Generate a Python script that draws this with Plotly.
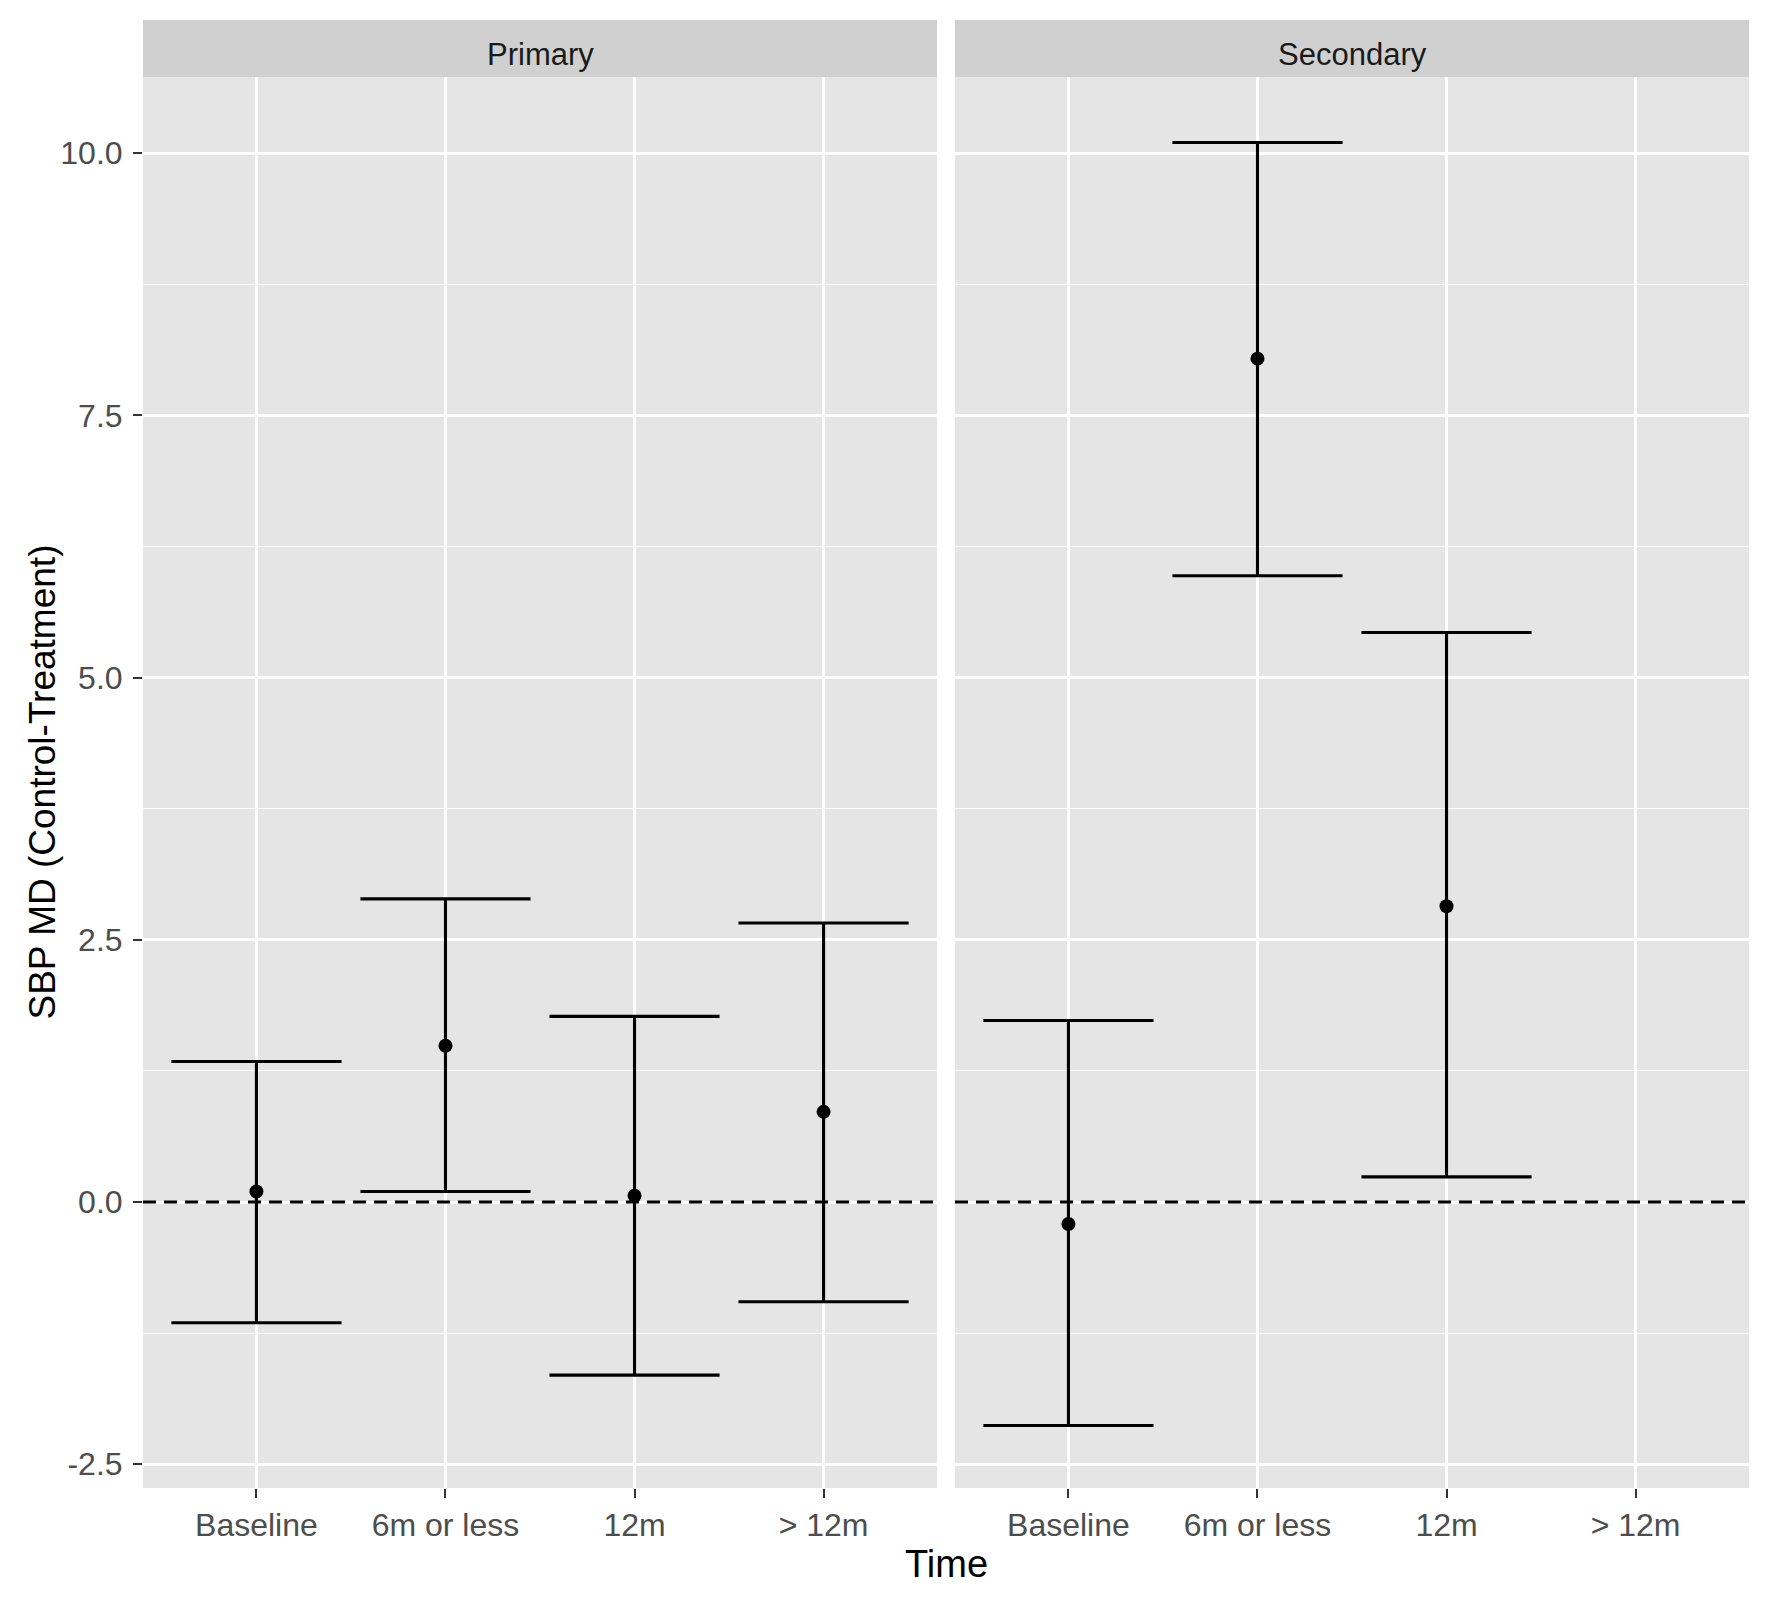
import plotly.graph_objects as go

# ---------------- data ----------------
categories = ["Baseline", "6m or less", "12m", "> 12m"]

primary_time = ["Baseline", "6m or less", "12m", "> 12m"]
primary_mean = [0.10, 1.49, 0.06, 0.86]
primary_lower = [-1.15, 0.10, -1.65, -0.95]
primary_upper = [1.34, 2.89, 1.77, 2.66]

secondary_time = ["Baseline", "6m or less", "12m"]
secondary_mean = [-0.21, 8.04, 2.82]
secondary_lower = [-2.13, 5.97, 0.24]
secondary_upper = [1.73, 10.10, 5.43]

panel_names = ["Primary", "Secondary"]
y_tickvals = [-2.5, 0.0, 2.5, 5.0, 7.5, 10.0]
y_ticktext = ["-2.5", "0.0", "2.5", "5.0", "7.5", "10.0"]
y_minorvals = [-1.25, 1.25, 3.75, 6.25, 8.75]
x_title = "Time"
y_title = "SBP MD (Control-Treatment)"

# ---------------- style ----------------
W, H = 1772, 1607
ML, MR, MT, MB = 143, 23, 77, 119
plot_w = W - ML - MR
plot_h = H - MT - MB
gap = 18
panel_w = (plot_w - gap) / 2
dom1 = [0, panel_w / plot_w]
dom2 = [(panel_w + gap) / plot_w, 1]

PANEL_BG = "#E5E5E5"
STRIP_BG = "#D0D0D0"
TICK_COLOR = "#4D4D4D"
FONT = "Liberation Sans, Arial, sans-serif"
cap_half = 0.45 * panel_w / 4.2

fig = go.Figure()


def add_panel(times, mean, lower, upper, xa, ya):
    fig.add_trace(go.Scatter(
        x=times, y=mean, xaxis=xa, yaxis=ya, mode="markers",
        marker=dict(color="black", size=14),
        error_y=dict(type="data", symmetric=False,
                     array=[u - m for u, m in zip(upper, mean)],
                     arrayminus=[m - l for m, l in zip(mean, lower)],
                     color="black", thickness=3.1, width=cap_half),
        showlegend=False, hoverinfo="x+y",
    ))


add_panel(primary_time, primary_mean, primary_lower, primary_upper, "x", "y")
add_panel(secondary_time, secondary_mean, secondary_lower, secondary_upper, "x2", "y2")

xaxis_common = dict(
    type="category", categoryorder="array", categoryarray=categories,
    range=[-0.6, 3.6], showgrid=True, gridcolor="white", gridwidth=2.5,
    ticks="outside", ticklen=9, tickwidth=2, tickcolor="#333333",
    tickfont=dict(family=FONT, size=32, color=TICK_COLOR),
    showline=False, zeroline=False, fixedrange=True,
)
yaxis_common = dict(
    range=[-2.726, 10.725], tickvals=y_tickvals, ticktext=y_ticktext,
    showgrid=True, gridcolor="white", gridwidth=2.5, zeroline=False,
    showline=False,
    minor=dict(tickvals=y_minorvals, showgrid=True, gridcolor="white",
               gridwidth=1.3, ticks=""),
    fixedrange=True,
)

fig.update_layout(
    width=W, height=H,
    margin=dict(l=ML, r=MR, t=MT, b=MB, pad=0),
    paper_bgcolor="white", plot_bgcolor=PANEL_BG,
    font=dict(family=FONT, color="black"),
    xaxis=dict(domain=dom1, anchor="y", **xaxis_common),
    xaxis2=dict(domain=dom2, anchor="y2", **xaxis_common),
    yaxis=dict(anchor="x", ticks="outside", ticklen=9, tickwidth=2,
               tickcolor="#333333", ticklabelstandoff=4,
               tickfont=dict(family=FONT, size=32, color=TICK_COLOR),
               **yaxis_common),
    yaxis2=dict(anchor="x2", matches="y", showticklabels=False, ticks="",
                **yaxis_common),
)

# dashed reference line at 0 in each panel
for xa, ya in [("x", "y"), ("x2", "y2")]:
    fig.add_shape(type="line", xref=f"{xa} domain", yref=ya,
                  x0=0, x1=1, y0=0, y1=0, layer="above",
                  line=dict(color="black", width=3, dash="13px,8px"))

# facet strips
strip_top = 1 + (MT - 20) / plot_h
strip_text_y = 1 + (MT - 55) / plot_h
for name, dom in zip(panel_names, [dom1, dom2]):
    fig.add_shape(type="rect", xref="paper", yref="paper",
                  x0=dom[0], x1=dom[1], y0=1, y1=strip_top,
                  fillcolor=STRIP_BG, line=dict(width=0), layer="above")
    fig.add_annotation(text=name, xref="paper", yref="paper",
                       x=(dom[0] + dom[1]) / 2, y=strip_text_y,
                       xanchor="center", yanchor="middle", showarrow=False,
                       font=dict(family=FONT, size=31, color="#1A1A1A"))

# axis titles
fig.add_annotation(text=x_title, xref="paper", yref="paper",
                   x=0.5, y=-(1564 - (H - MB)) / plot_h,
                   xanchor="center", yanchor="middle", showarrow=False,
                   font=dict(family=FONT, size=38, color="black"))
fig.add_annotation(text=y_title, xref="paper", yref="paper",
                   x=(42 - ML) / plot_w, y=0.5, textangle=-90,
                   xanchor="center", yanchor="middle", showarrow=False,
                   font=dict(family=FONT, size=37, color="black"))

fig.write_html("out.html", config={"displayModeBar": False},
               post_script="document.body.style.margin='0';")
